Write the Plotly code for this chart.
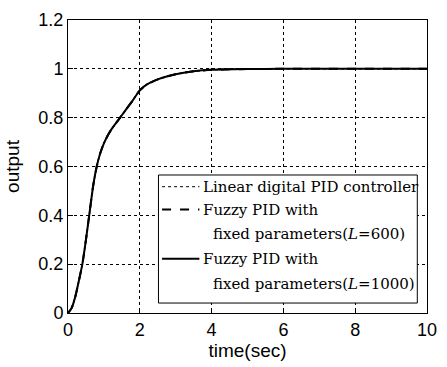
import plotly.graph_objects as go

# Step response samples (time in seconds, normalised output)
t = [0, 0.1, 0.2, 0.3, 0.4, 0.5, 0.6, 0.7, 0.8, 0.9, 1.0, 1.1, 1.2, 1.4, 1.6, 1.8,
     2.0, 2.2, 2.5, 3.0, 3.5, 4.0, 5.0, 6.0, 7.0, 8.0, 9.0, 10.0]
y_linear = [0, 0.02, 0.065, 0.13, 0.2, 0.3, 0.41, 0.52, 0.6, 0.655, 0.695, 0.725,
            0.75, 0.79, 0.83, 0.87, 0.912, 0.936, 0.957, 0.978, 0.99, 0.996,
            0.999, 1.0, 1.0, 1.0, 1.0, 1.0]
y_fuzzy600 = [0, 0.02, 0.065, 0.13, 0.2, 0.3, 0.41, 0.52, 0.6, 0.655, 0.695, 0.725,
              0.75, 0.79, 0.83, 0.87, 0.912, 0.936, 0.957, 0.978, 0.99, 0.996,
              0.999, 1.0, 1.0, 1.0, 1.0, 1.0]
y_fuzzy1000 = [0, 0.02, 0.065, 0.13, 0.2, 0.3, 0.41, 0.52, 0.6, 0.655, 0.695, 0.725,
               0.75, 0.79, 0.83, 0.87, 0.912, 0.936, 0.957, 0.978, 0.99, 0.996,
               0.999, 1.0, 1.0, 1.0, 1.0, 1.0]

x_ticks = [0, 2, 4, 6, 8, 10]
y_ticks = [0, 0.2, 0.4, 0.6, 0.8, 1, 1.2]
y_tick_text = ["0", "0.2", "0.4", "0.6", "0.8", "1", "1.2"]

legend_rows = [
    ("Linear digital PID controller", "dot"),
    ("Fuzzy PID with", "dash"),
    ("fixed parameters(<i>L</i>=600)", None),
    ("Fuzzy PID with", "solid"),
    ("fixed parameters(<i>L</i>=1000)", None),
]

SANS = "Liberation Sans, Arial"
SERIF = "DejaVu Serif, Liberation Serif"

fig = go.Figure()
fig.add_trace(go.Scatter(x=t, y=y_linear, mode="lines",
                         line=dict(color="black", width=1.5, dash="dot",
                                   shape="spline", smoothing=0.6)))
fig.add_trace(go.Scatter(x=t, y=y_fuzzy600, mode="lines",
                         line=dict(color="black", width=2, dash="dash",
                                   shape="spline", smoothing=0.6)))
fig.add_trace(go.Scatter(x=t, y=y_fuzzy1000, mode="lines",
                         line=dict(color="black", width=2,
                                   shape="spline", smoothing=0.6)))

axis_common = dict(
    showline=True, linecolor="black", linewidth=1, mirror=True,
    ticks="inside", ticklen=5, tickcolor="black",
    showgrid=True, gridcolor="black", gridwidth=1, griddash="3px,3px",
    zeroline=False,
    tickfont=dict(family=SANS, size=18, color="black"),
)

fig.update_layout(
    width=447, height=367,
    margin=dict(l=68, r=10, t=16, b=54),
    paper_bgcolor="white", plot_bgcolor="white",
    showlegend=False,
    xaxis=dict(range=[0, 10], tickvals=x_ticks,
               title=dict(text="time(sec)", standoff=0,
                          font=dict(family=SANS, size=19, color="black")),
               **axis_common),
    yaxis=dict(range=[0, 1.2], tickvals=y_ticks, ticktext=y_tick_text,
               title=dict(text="output", standoff=13,
                          font=dict(family=SANS, size=19, color="black")),
               **axis_common),
)

# Legend box drawn in paper coordinates
box = dict(x0=0.252, x1=0.973, y0=0.034, y1=0.471)
fig.add_shape(type="rect", xref="paper", yref="paper", layer="above",
              line=dict(color="black", width=1), fillcolor="white", **box)

row_y = [0.431, 0.353, 0.268, 0.185, 0.100]
for (label, dash), yy in zip(legend_rows, row_y):
    if dash is not None:
        fig.add_shape(type="line", xref="paper", yref="paper", layer="above",
                      x0=0.262, x1=0.366, y0=yy, y1=yy,
                      line=dict(color="black", width=1 if dash == "dot" else 2, dash=dash))
        x_text = 0.371
    else:
        x_text = 0.398
    fig.add_annotation(xref="paper", yref="paper", x=x_text, y=yy,
                       xanchor="left", yanchor="middle", showarrow=False,
                       text=label,
                       font=dict(family=SERIF, size=15, color="black"))

fig.write_html("out.html")
